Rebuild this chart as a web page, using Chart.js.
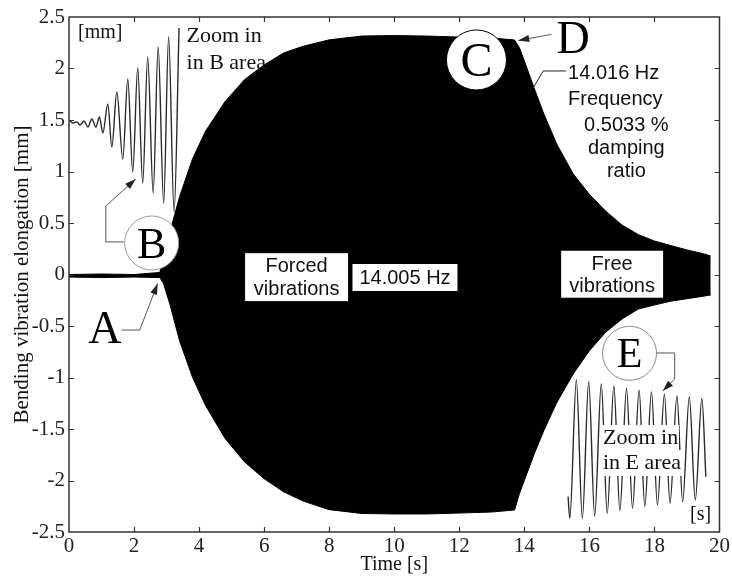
<!DOCTYPE html>
<html>
<head>
<meta charset="utf-8">
<style>
  body { margin: 0; background: #fff; }
  #wrap { width: 732px; height: 579px; }
</style>
</head>
<body>
<div id="wrap"><canvas id="vibChart" width="732" height="579"></canvas></div>
<script src="https://cdn.jsdelivr.net/npm/chart.js"></script>
<script>
  // envelope of the bending vibration record (upper / lower edge, mm)
  const envTime  = [0, 1.0, 2.0, 2.79, 2.9, 3.1, 3.4, 3.8, 4.2, 4.8, 5.4, 6.0, 6.6, 7.2, 8.0, 9.0, 10.0, 11.0, 12.0, 13.0, 13.7,
                    13.85, 14.0, 14.3, 14.6, 15.0, 15.5, 16.0, 16.5, 17.0, 17.5, 18.0, 18.5, 19.0, 19.5, 19.73];
  const envUpper = [0.0, 0.005, 0.0, 0.02, 0.15, 0.41, 0.755, 1.125, 1.392, 1.68, 1.893, 2.035, 2.151, 2.216, 2.278, 2.315, 2.32, 2.315, 2.305, 2.296, 2.277,
                    2.201, 2.073, 1.811, 1.558, 1.264, 0.977, 0.778, 0.616, 0.481, 0.388, 0.325, 0.281, 0.239, 0.202, 0.18];
  const envLower = [-0.025, -0.03, -0.025, -0.03, -0.083, -0.286, -0.645, -1.0, -1.273, -1.593, -1.82, -1.983, -2.11, -2.2, -2.283, -2.32, -2.325, -2.325, -2.316, -2.306, -2.286,
                    -2.126, -1.999, -1.745, -1.514, -1.242, -0.967, -0.74, -0.561, -0.433, -0.336, -0.296, -0.259, -0.235, -0.211, -0.199];

  // zoomed trace of area B (start of forced vibrations), drawn at +1.5 mm
  const bTime  = [0, 0.123, 0.245, 0.337, 0.459, 0.582, 0.704, 0.827, 0.934, 1.041, 1.194, 1.317, 1.470, 1.654, 1.807, 1.960,
                  2.113, 2.266, 2.420, 2.588, 2.741, 2.911, 3.063, 3.231, 3.384];
  const bValue = [1.5, 1.471, 1.481, 1.451, 1.49, 1.432, 1.51, 1.43, 1.529, 1.374, 1.655, 1.238, 1.772, 1.121, 1.898, 0.995,
                  2.005, 0.888, 2.112, 0.791, 2.209, 0.694, 2.306, 0.607, 2.393];

  // zoomed trace of area E (free decay), drawn at -1.7 mm
  const eTime  = [15.345, 15.397, 15.599, 15.783, 15.979, 16.162, 16.365, 16.548, 16.753, 16.937, 17.142, 17.326,
                  17.528, 17.703, 17.908, 18.092, 18.306, 18.478, 18.692, 18.867, 19.072, 19.256, 19.458, 19.580];
  const eValue = [-2.157, -2.367, -1.024, -2.367, -1.041, -2.345, -1.063, -2.318, -1.083, -2.293, -1.105, -2.270,
                  -1.121, -2.254, -1.138, -2.238, -1.160, -2.221, -1.180, -2.206, -1.187, -2.189, -1.202, -1.963];

  const xTickStep = 2;
  const yTickStep = 0.5;

  const SERIF = '"Liberation Serif", "Times New Roman", serif';
  const SANS = '"Liberation Sans", Arial, sans-serif';

  const pts = (xs, ys) => xs.map((x, i) => ({ x: x, y: ys[i] }));

  function leader(ctx, p, arrow) {
    ctx.beginPath();
    p.forEach((q, i) => i ? ctx.lineTo(q[0], q[1]) : ctx.moveTo(q[0], q[1]));
    ctx.stroke();
    if (!arrow) return;
    const [x1, y1] = p[p.length - 2], [x2, y2] = p[p.length - 1];
    const a = Math.atan2(y2 - y1, x2 - x1), L = 11, W = 3.5;
    ctx.beginPath();
    ctx.moveTo(x2, y2);
    ctx.lineTo(x2 - L * Math.cos(a) + W * Math.sin(a), y2 - L * Math.sin(a) - W * Math.cos(a));
    ctx.lineTo(x2 - L * Math.cos(a) - W * Math.sin(a), y2 - L * Math.sin(a) + W * Math.cos(a));
    ctx.closePath();
    ctx.fill();
  }

  function letterCircle(ctx, cx, cy, r, letter, size, stroke) {
    ctx.beginPath();
    ctx.arc(cx, cy, r, 0, Math.PI * 2);
    ctx.fillStyle = '#fff';
    ctx.fill();
    ctx.strokeStyle = stroke;
    ctx.lineWidth = 1;
    ctx.stroke();
    bigLetter(ctx, cx, cy, letter, size);
  }

  function bigLetter(ctx, cx, cy, letter, size) {
    ctx.fillStyle = '#000';
    ctx.font = size + 'px ' + SERIF;
    ctx.textAlign = 'center';
    ctx.textBaseline = 'alphabetic';
    ctx.fillText(letter, cx, cy + size * 0.33);
  }

  function textBox(ctx, cx, cy, w, h, lines, gap) {
    ctx.fillStyle = '#fff';
    ctx.fillRect(cx - w / 2, cy - h / 2, w, h);
    ctx.strokeStyle = '#000';
    ctx.lineWidth = 1;
    ctx.strokeRect(cx - w / 2, cy - h / 2, w, h);
    ctx.fillStyle = '#111';
    ctx.font = '20px ' + SANS;
    ctx.textAlign = 'center';
    ctx.textBaseline = 'middle';
    const y0 = cy - gap * (lines.length - 1) / 2;
    lines.forEach((s, i) => ctx.fillText(s, cx, y0 + i * gap + 1));
  }

  function label(ctx, x, y, s, font, align, backed) {
    ctx.font = font;
    ctx.textAlign = align;
    ctx.textBaseline = 'middle';
    if (backed) {
      const w = ctx.measureText(s).width;
      const left = align === 'center' ? x - w / 2 : x;
      ctx.fillStyle = '#fff';
      ctx.fillRect(Math.floor(left - 1), Math.floor(y - 13), Math.ceil(w + 2), 26);
    }
    ctx.fillStyle = '#111';
    ctx.fillText(s, x, y);
  }

  const notesAndFrame = {
    id: 'notesAndFrame',
    afterDatasetsDraw(chart) {
      const { ctx, chartArea: a, scales: { x, y } } = chart;
      const px = t => x.getPixelForValue(t);
      const py = v => y.getPixelForValue(v);
      const P = (t, v) => [px(t), py(v)];
      ctx.save();

      // explanatory boxes
      textBox(ctx, px(6.998), py(-0.026), 104, 49, ['Forced', 'vibrations'], 23);
      textBox(ctx, px(10.33), py(-0.029), 106, 28, ['14.005 Hz'], 0);
      textBox(ctx, px(16.70), py(0.003), 103, 48, ['Free', 'vibrations'], 22);

      // leaders
      ctx.lineWidth = 1;
      ctx.strokeStyle = '#555';
      ctx.fillStyle = '#222';
      leader(ctx, [P(1.685, 0.316), P(1.133, 0.316), P(1.133, 0.665), P(2.052, 0.927)], true);
      leader(ctx, [P(1.614, -0.539), P(2.175, -0.539), P(2.726, -0.087)], true);
      leader(ctx, [P(14.824, 2.331), P(13.813, 2.272)], true);
      leader(ctx, [P(18.071, -0.762), P(18.622, -0.762), P(18.622, -1.015), P(18.254, -1.131)], true);
      ctx.strokeStyle = '#222';
      leader(ctx, [P(14.273, 1.811), P(14.579, 1.976), P(15.283, 1.976)], false);

      // marked points
      letterCircle(ctx, px(2.542), py(0.306), 27, 'B', 44, '#999');
      letterCircle(ctx, px(12.527), py(2.083), 30, 'C', 48, '#000');
      letterCircle(ctx, px(17.234), py(-0.765), 27, 'E', 42, '#888');
      bigLetter(ctx, px(1.103), py(-0.519), 'A', 46);
      bigLetter(ctx, px(15.498), py(2.296), 'D', 46);

      // free text
      const serif20 = '20px ' + SERIF, serif22 = '22px ' + SERIF, sans20 = '20px ' + SANS;
      label(ctx, px(0.276), py(2.345), '[mm]', serif20, 'left');
      label(ctx, px(3.614), py(2.316), 'Zoom in', serif22, 'left');
      label(ctx, px(3.614), py(2.053), 'in B area', serif22, 'left');
      label(ctx, px(15.345), py(1.956), '14.016 Hz', sans20, 'left');
      label(ctx, px(15.345), py(1.704), 'Frequency', sans20, 'left');
      label(ctx, px(17.136), py(1.442), '0.5033 %', sans20, 'center');
      label(ctx, px(17.136), py(1.228), 'damping', sans20, 'center');
      label(ctx, px(17.136), py(1.005), 'ratio', sans20, 'center');
      label(ctx, px(16.417), py(-1.590), 'Zoom in', serif22, 'left', true);
      label(ctx, px(16.417), py(-1.833), 'in E area', serif22, 'left', true);
      label(ctx, px(19.418), py(-2.335), '[s]', serif20, 'center');

      // boxed axes with inward ticks on all four sides
      ctx.strokeStyle = '#333';
      ctx.lineWidth = 1.5;
      ctx.strokeRect(a.left, a.top, a.right - a.left, a.bottom - a.top);
      ctx.lineWidth = 1.2;
      ctx.beginPath();
      x.ticks.forEach(t => {
        if (t.value <= x.min || t.value >= x.max) return;
        const X = Math.round(px(t.value)) + 0.5;
        ctx.moveTo(X, a.bottom); ctx.lineTo(X, a.bottom - 5);
        ctx.moveTo(X, a.top); ctx.lineTo(X, a.top + 5);
      });
      y.ticks.forEach(t => {
        if (t.value <= y.min || t.value >= y.max) return;
        const Y = Math.round(py(t.value)) + 0.5;
        ctx.moveTo(a.left, Y); ctx.lineTo(a.left + 5, Y);
        ctx.moveTo(a.right, Y); ctx.lineTo(a.right - 5, Y);
      });
      ctx.stroke();
      ctx.restore();
    }
  };

  new Chart(document.getElementById('vibChart'), {
    type: 'line',
    data: {
      datasets: [
        {
          data: pts(envTime, envUpper),
          fill: '+1',
          backgroundColor: '#000',
          borderColor: '#000',
          borderWidth: 1,
          pointRadius: 0,
          tension: 0
        },
        {
          data: pts(envTime, envLower),
          fill: false,
          borderColor: '#000',
          borderWidth: 1,
          pointRadius: 0,
          tension: 0
        },
        {
          data: pts(bTime, bValue),
          fill: false,
          borderColor: '#2a2a2a',
          borderWidth: 1.4,
          pointRadius: 0,
          cubicInterpolationMode: 'monotone'
        },
        {
          data: pts(eTime, eValue),
          fill: false,
          borderColor: '#2a2a2a',
          borderWidth: 1.4,
          pointRadius: 0,
          cubicInterpolationMode: 'monotone'
        }
      ]
    },
    options: {
      responsive: false,
      animation: false,
      layout: { padding: { top: 17, right: 10, left: 0, bottom: 0 } },
      plugins: {
        legend: { display: false },
        tooltip: { enabled: false }
      },
      scales: {
        x: {
          type: 'linear',
          min: 0,
          max: 20,
          ticks: { stepSize: xTickStep, font: { family: SERIF, size: 21 }, color: '#222', padding: 2, maxRotation: 0 },
          grid: { display: false, drawTicks: false },
          border: { display: false },
          title: { display: true, text: 'Time [s]', font: { family: SERIF, size: 20 }, color: '#111', padding: { top: 0, bottom: 2 } },
          afterFit(scale) { scale.height = 47; }
        },
        y: {
          type: 'linear',
          min: -2.5,
          max: 2.5,
          ticks: {
            stepSize: yTickStep,
            font: { family: SERIF, size: 21 },
            color: '#222',
            padding: 4,
            callback: v => String(Math.round(v * 10) / 10)
          },
          grid: { display: false, drawTicks: false },
          border: { display: false },
          title: { display: true, text: 'Bending vibration elongation [mm]', font: { family: SERIF, size: 21 }, color: '#111', padding: { top: 10, bottom: 0 } },
          afterFit(scale) { scale.width = 69; }
        }
      }
    },
    plugins: [notesAndFrame]
  });
</script>
</body>
</html>
